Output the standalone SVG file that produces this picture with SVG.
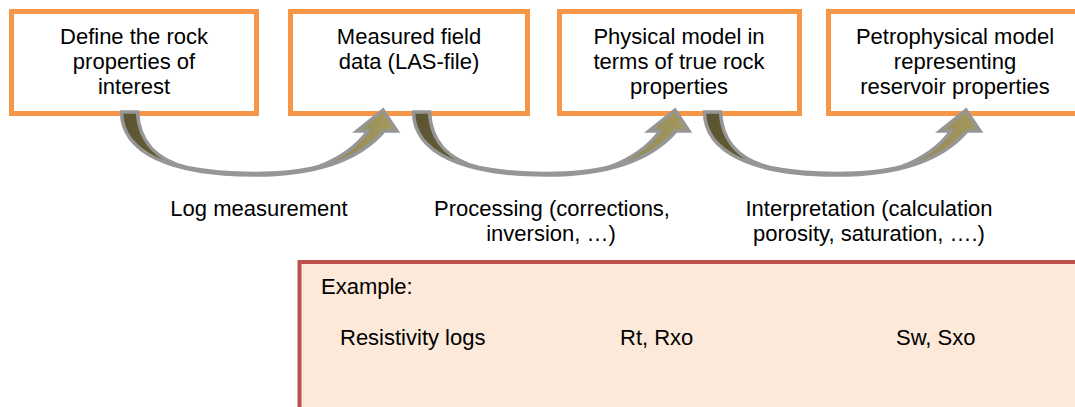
<svg xmlns="http://www.w3.org/2000/svg" width="1075" height="407" viewBox="0 0 1075 407">
  <defs>
    <linearGradient id="olive" x1="0" y1="0" x2="1" y2="0">
      <stop offset="0" stop-color="#5c5431"/>
      <stop offset="0.5" stop-color="#7a7042"/>
      <stop offset="1" stop-color="#a59b60"/>
    </linearGradient>
  </defs>
  <style>
    .box { fill: #ffffff; stroke: #F79646; stroke-width: 5; }
    .ex { fill: #FDE9D9; stroke: #C0504D; stroke-width: 4; }
    .t { font-family: "Liberation Sans", Arial, sans-serif; font-size: 22px; fill: #000000; }
    .c { text-anchor: middle; }
    .arrow { fill: url(#olive); stroke: #969696; stroke-width: 3.5; stroke-linejoin: miter; }
  </style>
  <rect width="1075" height="407" fill="#ffffff"/>

  <g id="node-define">
    <rect class="box" x="11.5" y="11.5" width="245" height="102"/>
    <text class="t c" x="134" y="44">Define the rock</text>
    <text class="t c" x="134" y="69">properties of</text>
    <text class="t c" x="134" y="94">interest</text>
  </g>
  <g id="node-measured">
    <rect class="box" x="290.5" y="11.5" width="237" height="102"/>
    <text class="t c" x="409" y="44">Measured field</text>
    <text class="t c" x="409" y="69">data (LAS-file)</text>
  </g>
  <g id="node-physical">
    <rect class="box" x="559.5" y="11.5" width="240" height="102"/>
    <text class="t c" x="679" y="44">Physical model in</text>
    <text class="t c" x="679" y="69">terms of true rock</text>
    <text class="t c" x="679" y="94">properties</text>
  </g>
  <g id="node-petro">
    <rect class="box" x="828.5" y="11.5" width="260" height="102"/>
    <text class="t c" x="955" y="44">Petrophysical model</text>
    <text class="t c" x="955" y="69">representing</text>
    <text class="t c" x="955" y="94">reservoir properties</text>
  </g>

  <g id="connectors">
    <path class="arrow" transform="translate(119,0)" d="M2.5,112 C3,152 50,175 135,175 C198,175 240,160 265,131 L278,131 L264,110 L238,131 L249,131 C238,146 222,158 200,166.5 C180,172 160,173.5 135,173.5 C110,173.5 85,171 68,167.5 C42,161 20,145 18.5,112 Z"/>
    <path class="arrow" transform="translate(411,0)" d="M2.5,112 C3,152 50,175 135,175 C198,175 240,160 265,131 L278,131 L264,110 L238,131 L249,131 C238,146 222,158 200,166.5 C180,172 160,173.5 135,173.5 C110,173.5 85,171 68,167.5 C42,161 20,145 18.5,112 Z"/>
    <path class="arrow" transform="translate(702,0)" d="M2.5,112 C3,152 50,175 135,175 C198,175 240,160 265,131 L278,131 L264,110 L238,131 L249,131 C238,146 222,158 200,166.5 C180,172 160,173.5 135,173.5 C110,173.5 85,171 68,167.5 C42,161 20,145 18.5,112 Z"/>
  </g>

  <g id="label-log">
    <text class="t c" x="259" y="216">Log measurement</text>
  </g>
  <g id="label-processing">
    <text class="t c" x="552" y="216">Processing (corrections,</text>
    <text class="t c" x="551" y="241">inversion, …)</text>
  </g>
  <g id="label-interpretation">
    <text class="t c" x="869" y="216">Interpretation (calculation</text>
    <text class="t c" x="869" y="241">porosity, saturation, ….)</text>
  </g>

  <g id="node-example">
    <rect class="ex" x="299.5" y="262" width="800" height="200"/>
    <text class="t" x="321" y="294">Example:</text>
    <text class="t" x="340" y="345">Resistivity logs</text>
    <text class="t" x="620" y="345">Rt, Rxo</text>
    <text class="t" x="896" y="345">Sw, Sxo</text>
  </g>
</svg>
